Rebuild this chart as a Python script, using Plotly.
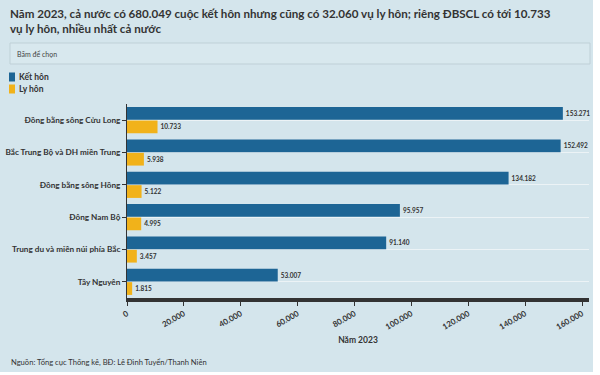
import plotly.graph_objects as go

regions = ["Đồng bằng sông Cửu Long", "Bắc Trung Bộ và DH miền Trung", "Đồng bằng sông Hồng",
           "Đông Nam Bộ", "Trung du và miền núi phía Bắc", "Tây Nguyên"]
ket_hon = [153271, 152492, 134182, 95957, 91140, 53007]
ly_hon = [10733, 5938, 5122, 4995, 3457, 1815]
tick_vals = [0, 20000, 40000, 60000, 80000, 100000, 120000, 140000, 160000]
series_names = ["Kết hôn", "Ly hôn"]

BG = "#d4e5ec"
BLUE = "#1d6595"
YELLOW = "#f1b21a"
TXT = "#333333"
FONT = "Lato"

# plot area in px
L, R, T, B = 127, 589, 104, 298
def px(x):
    return (x - L) / (R - L)
def py(y):
    return (B - y) / (B - T)

fig = go.Figure()
for name, vals, col in [(series_names[0], ket_hon, BLUE), (series_names[1], ly_hon, YELLOW)]:
    fig.add_trace(go.Bar(y=regions, x=vals, name=name, orientation="h",
                         marker=dict(color=col, line=dict(width=0)),
                         texttemplate="%{x:,}", textposition="outside",
                         textfont=dict(size=6.5, color=TXT, family=FONT, weight="bold"),
                         cliponaxis=False, showlegend=False))

fig.update_layout(
    width=600, height=375,
    margin=dict(l=L, r=600 - R, t=T, b=375 - B, autoexpand=False),
    paper_bgcolor=BG, plot_bgcolor=BG,
    separators=",.",
    barmode="group", bargap=0.17, bargroupgap=0.05,
    font=dict(family=FONT, color=TXT),
    xaxis=dict(range=[0, 160000 * (R - L) / 455], tickvals=tick_vals, tickformat=",",
               tickangle=-30, tickfont=dict(size=8, family=FONT, weight="bold", color=TXT),
               showgrid=False, zeroline=False,
               showline=True, linecolor="#333333", linewidth=4,
               ticks="outside", ticklen=4, tickcolor="#333333", tickwidth=1,
               title=dict(text="Năm 2023", font=dict(size=8.5, family=FONT, weight="bold", color=TXT),
                          standoff=7)),
    yaxis=dict(autorange="reversed", showgrid=True, gridcolor="rgba(255,255,255,0.55)", gridwidth=1,
               showline=True, linecolor="#333333", linewidth=1,
               ticks="outside", ticklen=4, tickcolor="#333333",
               tickfont=dict(size=8.2, family=FONT, weight="bold", color=TXT)),
)

# title
fig.add_annotation(xref="paper", yref="paper", x=px(8), y=py(5), xanchor="left", yanchor="top",
                   align="left", showarrow=False,
                   text="Năm 2023, cả nước có 680.049 cuộc kết hôn nhưng cũng có 32.060 vụ ly hôn; riêng ĐBSCL có tới 10.733<br>vụ ly hôn, nhiều nhất cả nước",
                   font=dict(size=11.6, family=FONT, weight="bold", color=TXT))
# dropdown box
fig.add_shape(type="rect", xref="paper", yref="paper", x0=px(10), x1=px(590), y0=py(43), y1=py(64),
              line=dict(color="#bfd0d7", width=1), fillcolor="#d8e8ee", layer="below")
fig.add_annotation(xref="paper", yref="paper", x=px(15), y=py(53.5), xanchor="left", yanchor="middle",
                   showarrow=False, text="Bấm để chọn", font=dict(size=7, family=FONT, color="#444"))
# legend (keys + labels)
for i, (name, col) in enumerate([(series_names[0], BLUE), (series_names[1], YELLOW)]):
    yc = 77 + 12 * i
    fig.add_shape(type="rect", xref="paper", yref="paper", x0=px(9), x1=px(15), y0=py(yc - 4.5), y1=py(yc + 4.5),
                  line=dict(width=0), fillcolor=col)
    fig.add_annotation(xref="paper", yref="paper", x=px(16.5), y=py(yc), xanchor="left", yanchor="middle",
                       showarrow=False, text=name, font=dict(size=8.5, family=FONT, weight="bold", color=TXT))
# source
fig.add_annotation(xref="paper", yref="paper", x=px(9), y=py(362), xanchor="left", yanchor="middle",
                   showarrow=False, text="Nguồn: Tổng cục Thống kê, BĐ: Lê Đình Tuyển/Thanh Niên",
                   font=dict(size=7.6, family=FONT, color=TXT))
# white page outside the card
fig.add_shape(type="rect", xref="paper", yref="paper", x0=px(593), x1=px(601), y0=py(-1), y1=py(376),
              line=dict(width=0), fillcolor="white", layer="above")
fig.add_shape(type="rect", xref="paper", yref="paper", x0=px(-1), x1=px(601), y0=py(372), y1=py(376),
              line=dict(width=0), fillcolor="white", layer="above")

fig.write_html("out.html", config={"displayModeBar": False},
               post_script="document.body.style.margin='0';document.body.style.padding='0';")
